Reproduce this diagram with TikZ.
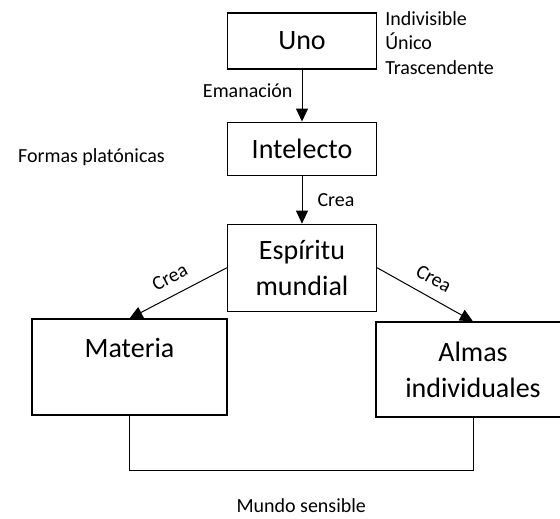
\documentclass[tikz,border=0pt]{standalone}
\usepackage{fontspec}
\setmainfont{Carlito}
\usetikzlibrary{arrows.meta,positioning}

\begin{document}
\begin{tikzpicture}[
    x=1pt, y=-1pt,
    node distance=50pt,
    concept/.style={rectangle, draw, line width=1.1pt, minimum width=149pt, align=center, font=\fontsize{28}{36}\selectfont},
    note/.style={font=\fontsize{20}{24.4}\selectfont, inner sep=2pt},
    arrow/.style={-{Triangle[length=13pt,width=12pt]}, line width=1pt},
    bracket/.style={line width=0.8pt}
]
  \useasboundingbox (0,0) rectangle (560,519);

  % Emanation chain
  \node[concept, minimum height=56pt] (uno) at (302,41) {Uno};
  \node[concept, minimum height=53pt, below=52pt of uno] (intelecto) {Intelecto};
  \node[concept, minimum height=87pt, below=48pt of intelecto] (espiritu) {Espíritu\\mundial};

  % Sensible world
  \node[concept, minimum width=195pt, minimum height=96pt, text depth=38pt] (materia) at (129.5,367) {Materia};
  \node[concept, minimum width=194pt, minimum height=95pt] (almas) at (473,369.5) {Almas\\individuales};

  % Side notes
  \node[note, align=left, right=6pt of uno.east, yshift=-2pt] (atributos) {Indivisible\\Único\\Trascendente};
  \node[note, left=60pt of intelecto, yshift=-9pt] (formas) {Formas platónicas};

  % Arrows
  \draw[arrow] (uno) -- node[note, left=7pt, pos=0.4] (emanacion) {Emanación} (intelecto);
  \draw[arrow] (intelecto) -- node[note, right=13pt] (crea1) {Crea} (espiritu);
  \draw[arrow] (espiritu.west) -- node[note, above=9pt, sloped] (crea2) {Crea} (materia.north);
  \draw[arrow] (espiritu.east) -- node[note, above=9pt, sloped] (crea3) {Crea} (almas.north);

  % Bracket
  \draw[bracket] (materia.south) -- ++(0,55) coordinate (bl)
    -- node[note, below=26pt] (sensible) {Mundo sensible} (bl -| almas.south) -- (almas.south);
\end{tikzpicture}
\end{document}
